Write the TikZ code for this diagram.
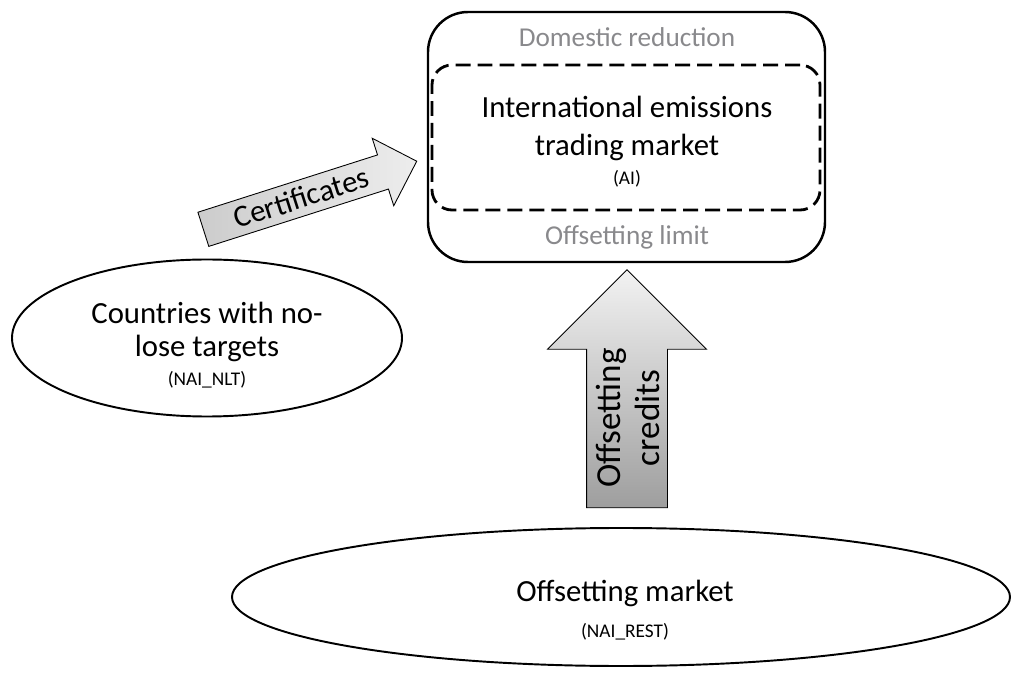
\documentclass[tikz,border=0pt]{standalone}
\usepackage{fontspec}
\setmainfont{Carlito}
\usetikzlibrary{shapes.geometric,shapes.arrows}

\definecolor{labelgray}{RGB}{137,137,140}

\begin{document}
\begin{tikzpicture}[
	bigtext/.style={font=\fontsize{17.5}{21.5}\selectfont},
	graytext/.style={font=\fontsize{15.5}{19}\selectfont,text=labelgray},
	market/.style={ellipse,draw,line width=1.1pt,inner sep=0pt},
	blockarrow/.style={single arrow,draw,line width=0.5pt,single arrow head extend=#1,inner xsep=0pt,minimum width=0pt}
	]
\newcommand{\smalltext}{\fontsize{11}{13}\selectfont}

%Fix the bounding box to the size of the reference
	\useasboundingbox (0,0) rectangle (20.26,-13.46);

%Draw the outer box of the trading market
	\node[draw,line width=1.4pt,rounded corners=0.8cm,minimum width=7.94cm,minimum height=5cm] (ai) at (12.53,-2.74) {};

%Draw the dashed inner box and the market name in it
	\node[draw,line width=1.6pt,dash pattern=on 8.5pt off 4pt,rounded corners=0.4cm,minimum width=7.76cm,minimum height=2.9cm] (trading) at (12.52,-2.75) {};
	\node[align=center,bigtext] (tradingtext) at (12.54,-2.84) {International emissions\\trading market\\[-5pt]{\smalltext (AI)}};

%The grey labels above and below the dashed box
	\node[graytext] (domestic) at (12.54,-0.74) {Domestic reduction};
	\node[graytext] (limit) at (12.54,-4.74) {Offsetting limit};

%Draw the two ellipses with their texts
	\node[market,minimum width=7.8cm,minimum height=3.14cm] (nlt) at (4.14,-6.76) {};
	\node[align=center,bigtext] (nlttext) at (4.14,-6.9) {Countries with no-\\[-2.5pt]lose targets\\[-5pt]{\smalltext (NAI\_NLT)}};
	\node[market,minimum width=15.56cm,minimum height=2.76cm] (rest) at (12.42,-11.94) {};
	\node[align=center,bigtext] (resttext) at (12.5,-12.2) {Offsetting market\\[-1pt]{\smalltext (NAI\_REST)}};

%Draws the certificates arrow from the left ellipse to the box
	\node[blockarrow=0.35cm,rotate=17.7,minimum height=4.48cm,inner ysep=3.2pt,text height=12.5pt,text depth=1pt,left color=black!20,right color=black!7,bigtext] (certificates) at (6.03,-3.96) {Certificates};

%Draws the offsetting credits arrow from the bottom ellipse up to the box
	\node[blockarrow=0.78cm,rotate=90,minimum height=4.76cm,inner ysep=0.8cm,top color=black!5,bottom color=black!38] (credits) at (12.54,-8.18) {};
	\node[rotate=90,align=center,font=\fontsize{20}{22.7}\selectfont] (creditstext) at (12.56,-8.36) {Offsetting\\credits};

\end{tikzpicture}
\end{document}
